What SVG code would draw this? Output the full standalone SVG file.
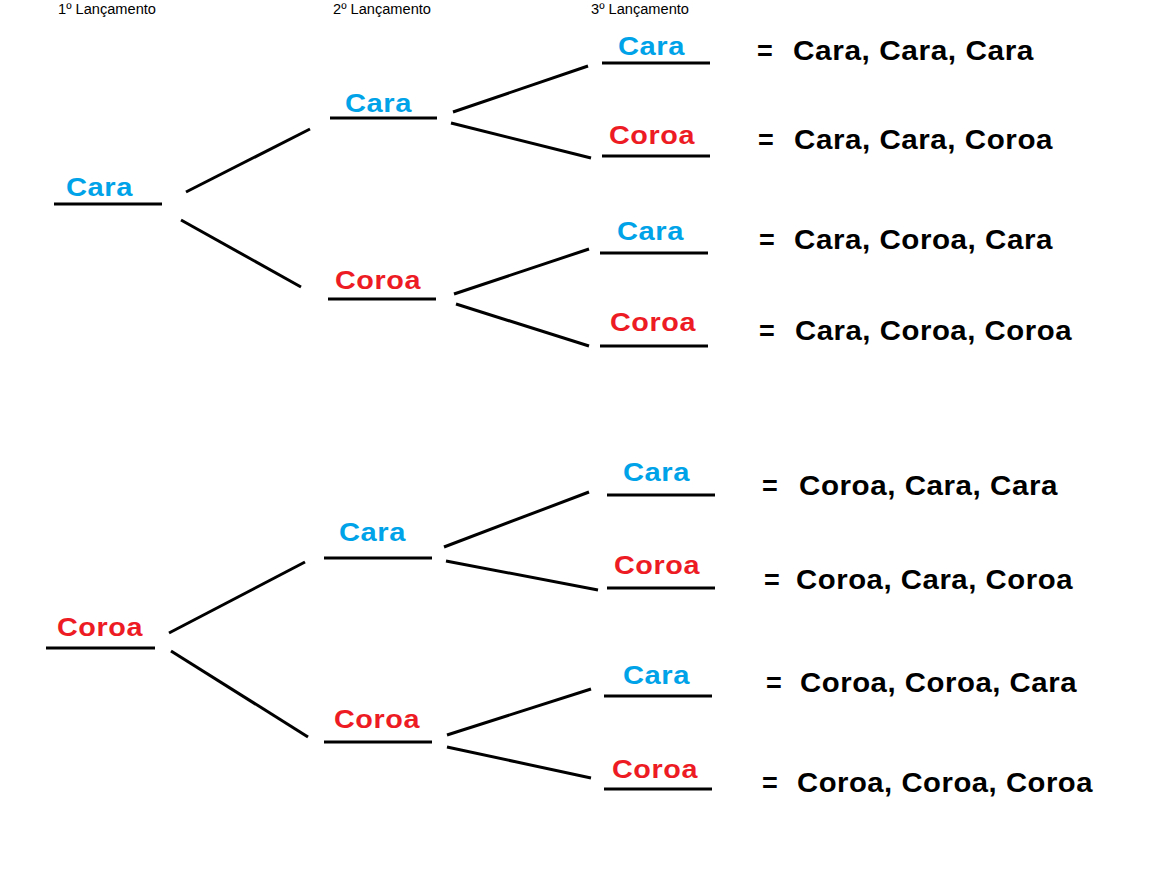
<svg xmlns="http://www.w3.org/2000/svg" width="1153" height="891" viewBox="0 0 1153 891">
<style>
.hdr{font-family:"Liberation Sans",Arial,sans-serif;font-size:14px;fill:#000}
.lbl{font-family:"Liberation Sans",Arial,sans-serif;font-size:25px;font-weight:bold;letter-spacing:0.5px}
.cara{fill:#00a2e8}
.coroa{fill:#ed1c24}
.res{font-family:"Liberation Sans",Arial,sans-serif;font-size:27px;font-weight:bold;letter-spacing:0.5px;fill:#000}
.ul{stroke:#000;stroke-width:3;fill:none}
.edge{stroke:#000;stroke-width:3;fill:none}
</style>
<rect width="1153" height="891" fill="#fff"/>
<g id="headers">
<text class="hdr" x="58" y="14" textLength="98" lengthAdjust="spacingAndGlyphs">1º Lançamento</text>
<text class="hdr" x="333" y="14" textLength="98" lengthAdjust="spacingAndGlyphs">2º Lançamento</text>
<text class="hdr" x="591" y="14" textLength="98" lengthAdjust="spacingAndGlyphs">3º Lançamento</text>
</g>
<g id="connectors">
<line class="edge" x1="186" y1="192" x2="310" y2="129"/>
<line class="edge" x1="181" y1="220" x2="301" y2="287"/>
<line class="edge" x1="169" y1="633" x2="305" y2="562"/>
<line class="edge" x1="171" y1="651" x2="308" y2="737"/>
<line class="edge" x1="453" y1="112" x2="588" y2="66"/>
<line class="edge" x1="451" y1="123" x2="591" y2="158"/>
<line class="edge" x1="454" y1="294" x2="589" y2="249"/>
<line class="edge" x1="456" y1="304" x2="589" y2="346"/>
<line class="edge" x1="444" y1="547" x2="589" y2="492"/>
<line class="edge" x1="446" y1="561" x2="598" y2="590"/>
<line class="edge" x1="447" y1="735" x2="591" y2="689"/>
<line class="edge" x1="447" y1="747" x2="591" y2="778"/>
</g>
<g id="n1-cara"><text class="lbl cara" x="66" y="196" textLength="67" lengthAdjust="spacingAndGlyphs">Cara</text><line class="ul" x1="54" y1="204" x2="162" y2="204"/></g>
<g id="n1-coroa"><text class="lbl coroa" x="57" y="636" textLength="86" lengthAdjust="spacingAndGlyphs">Coroa</text><line class="ul" x1="46" y1="648" x2="155" y2="648"/></g>
<g id="n2-cara-cara"><text class="lbl cara" x="345" y="112" textLength="67" lengthAdjust="spacingAndGlyphs">Cara</text><line class="ul" x1="330" y1="118" x2="437" y2="118"/></g>
<g id="n2-cara-coroa"><text class="lbl coroa" x="335" y="289" textLength="86" lengthAdjust="spacingAndGlyphs">Coroa</text><line class="ul" x1="328" y1="299" x2="436" y2="299"/></g>
<g id="n2-coroa-cara"><text class="lbl cara" x="339" y="541" textLength="67" lengthAdjust="spacingAndGlyphs">Cara</text><line class="ul" x1="324" y1="558" x2="432" y2="558"/></g>
<g id="n2-coroa-coroa"><text class="lbl coroa" x="334" y="728" textLength="86" lengthAdjust="spacingAndGlyphs">Coroa</text><line class="ul" x1="324" y1="742" x2="432" y2="742"/></g>
<g id="n3-1"><text class="lbl cara" x="618" y="55" textLength="67" lengthAdjust="spacingAndGlyphs">Cara</text><line class="ul" x1="602" y1="63" x2="710" y2="63"/></g>
<g id="n3-2"><text class="lbl coroa" x="609" y="144" textLength="86" lengthAdjust="spacingAndGlyphs">Coroa</text><line class="ul" x1="602" y1="156" x2="710" y2="156"/></g>
<g id="n3-3"><text class="lbl cara" x="617" y="240" textLength="67" lengthAdjust="spacingAndGlyphs">Cara</text><line class="ul" x1="600" y1="253" x2="708" y2="253"/></g>
<g id="n3-4"><text class="lbl coroa" x="610" y="331" textLength="86" lengthAdjust="spacingAndGlyphs">Coroa</text><line class="ul" x1="600" y1="346" x2="708" y2="346"/></g>
<g id="n3-5"><text class="lbl cara" x="623" y="481" textLength="67" lengthAdjust="spacingAndGlyphs">Cara</text><line class="ul" x1="607" y1="495" x2="715" y2="495"/></g>
<g id="n3-6"><text class="lbl coroa" x="614" y="574" textLength="86" lengthAdjust="spacingAndGlyphs">Coroa</text><line class="ul" x1="607" y1="588" x2="715" y2="588"/></g>
<g id="n3-7"><text class="lbl cara" x="623" y="684" textLength="67" lengthAdjust="spacingAndGlyphs">Cara</text><line class="ul" x1="604" y1="696" x2="712" y2="696"/></g>
<g id="n3-8"><text class="lbl coroa" x="612" y="778" textLength="86" lengthAdjust="spacingAndGlyphs">Coroa</text><line class="ul" x1="604" y1="789" x2="712" y2="789"/></g>
<g id="r1"><text class="res" y="60"><tspan x="757">=</tspan><tspan x="793" textLength="241" lengthAdjust="spacingAndGlyphs">Cara, Cara, Cara</tspan></text></g>
<g id="r2"><text class="res" y="149"><tspan x="758">=</tspan><tspan x="794" textLength="259" lengthAdjust="spacingAndGlyphs">Cara, Cara, Coroa</tspan></text></g>
<g id="r3"><text class="res" y="249"><tspan x="759">=</tspan><tspan x="794" textLength="259" lengthAdjust="spacingAndGlyphs">Cara, Coroa, Cara</tspan></text></g>
<g id="r4"><text class="res" y="340"><tspan x="759">=</tspan><tspan x="795" textLength="277" lengthAdjust="spacingAndGlyphs">Cara, Coroa, Coroa</tspan></text></g>
<g id="r5"><text class="res" y="495"><tspan x="762">=</tspan><tspan x="799" textLength="259" lengthAdjust="spacingAndGlyphs">Coroa, Cara, Cara</tspan></text></g>
<g id="r6"><text class="res" y="589"><tspan x="764">=</tspan><tspan x="796" textLength="277" lengthAdjust="spacingAndGlyphs">Coroa, Cara, Coroa</tspan></text></g>
<g id="r7"><text class="res" y="692"><tspan x="766">=</tspan><tspan x="800" textLength="277" lengthAdjust="spacingAndGlyphs">Coroa, Coroa, Cara</tspan></text></g>
<g id="r8"><text class="res" y="792"><tspan x="762">=</tspan><tspan x="797" textLength="296" lengthAdjust="spacingAndGlyphs">Coroa, Coroa, Coroa</tspan></text></g>
</svg>
